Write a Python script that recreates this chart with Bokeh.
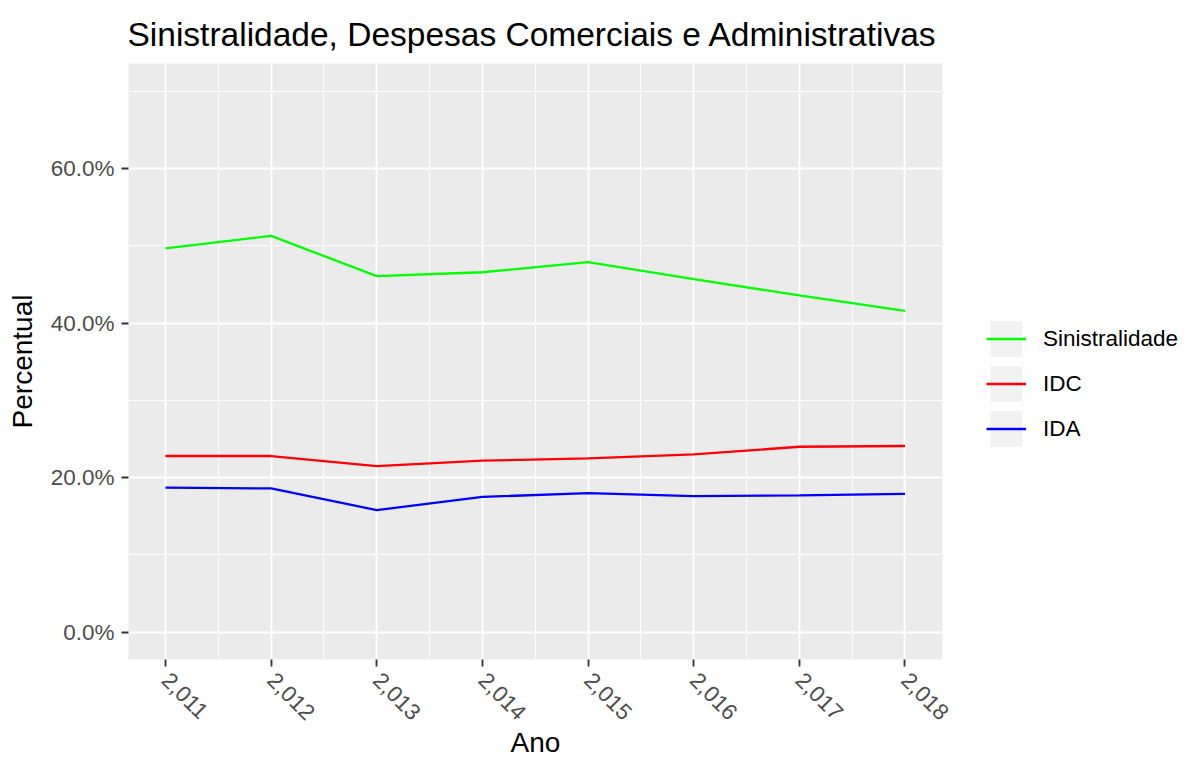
from bokeh.plotting import figure
from bokeh.models import Range1d, FixedTicker, NumeralTickFormatter, Legend, LegendItem
from bokeh.embed import file_html
from bokeh.resources import INLINE

# ---- data ----
years = [2011, 2012, 2013, 2014, 2015, 2016, 2017, 2018]
x_tick_labels = ["2,011", "2,012", "2,013", "2,014", "2,015", "2,016", "2,017", "2,018"]
sinistralidade = [0.497, 0.513, 0.461, 0.466, 0.479, 0.457, 0.436, 0.416]
idc = [0.228, 0.228, 0.215, 0.222, 0.225, 0.230, 0.240, 0.241]
ida = [0.187, 0.186, 0.158, 0.175, 0.180, 0.176, 0.177, 0.179]
y_ticks = [0.0, 0.2, 0.4, 0.6]
y_minor = [0.1, 0.3, 0.5, 0.7]
x_minor = [2011.5, 2012.5, 2013.5, 2014.5, 2015.5, 2016.5, 2017.5]
series_names = ["Sinistralidade", "IDC", "IDA"]
series_colors = ["#00FF00", "#FF0000", "#0000FF"]

FONT = "Liberation Sans"
NAN = float("nan")

p = figure(frame_width=814, frame_height=596, output_backend="svg", toolbar_location=None,
           x_range=Range1d(2010.65, 2018.355), y_range=Range1d(-0.0355, 0.7363),
           min_border_left=128, min_border_right=0, min_border_top=63, min_border_bottom=101,
           background_fill_color="#EBEBEB", border_fill_color="white", outline_line_color=None)

p.title.text = "Sinistralidade, Despesas Comerciais e Administrativas"
p.title.text_font = FONT
p.title.text_font_size = "33.5px"
p.title.text_font_style = "normal"
p.title.text_color = "black"
p.title.align = "left"
p.title.offset = -1
p.title.standoff = 22

# axes
p.xaxis.ticker = FixedTicker(ticks=years, minor_ticks=x_minor)
p.xaxis.major_label_overrides = {y: lab for y, lab in zip(years, x_tick_labels)}
p.yaxis.ticker = FixedTicker(ticks=y_ticks, minor_ticks=y_minor)
p.yaxis.formatter = NumeralTickFormatter(format="0.0%")
p.xaxis.major_label_orientation = -0.785398
p.xaxis.axis_label = "Ano"
p.yaxis.axis_label = "Percentual"
for ax in (p.xaxis, p.yaxis):
    ax.axis_line_color = None
    ax.major_tick_line_color = "#333333"
    ax.major_tick_line_width = 1.8
    ax.major_tick_out = 7
    ax.major_tick_in = 0
    ax.minor_tick_line_color = None
    ax.major_label_text_font = FONT
    ax.major_label_text_font_size = "22.5px"
    ax.major_label_text_color = "#4D4D4D"
    ax.axis_label_text_font = FONT
    ax.axis_label_text_font_size = "28px"
    ax.axis_label_text_font_style = "normal"
    ax.axis_label_text_color = "black"
p.yaxis.major_label_standoff = 7
p.yaxis.axis_label_standoff = 10
p.xaxis.major_label_standoff = 10
p.xaxis.axis_label_standoff = -3

for g in (p.xgrid, p.ygrid):
    g.grid_line_color = "white"
    g.grid_line_width = 1.8
    g.minor_grid_line_color = "white"
    g.minor_grid_line_width = 0.9

items = []
for name, vals, col in zip(series_names, [sinistralidade, idc, ida], series_colors):
    key = p.quad(left=[NAN], right=[NAN], top=[NAN], bottom=[NAN],
                 fill_color="#F2F2F2", line_color=None)
    r = p.line(x=years, y=vals, line_color=col, line_width=2.3)
    items.append(LegendItem(label=name, renderers=[key, r]))

legend = Legend(items=items, location=(44, 208), orientation="vertical",
                glyph_width=40, glyph_height=45, spacing=0, padding=0, margin=0,
                label_standoff=17, label_text_font=FONT, label_text_font_size="22.5px",
                label_text_color="black", background_fill_alpha=0, border_line_color=None,
                label_height=45)
p.add_layout(legend, "right")

open("out.html", "w").write(file_html(p, INLINE))
